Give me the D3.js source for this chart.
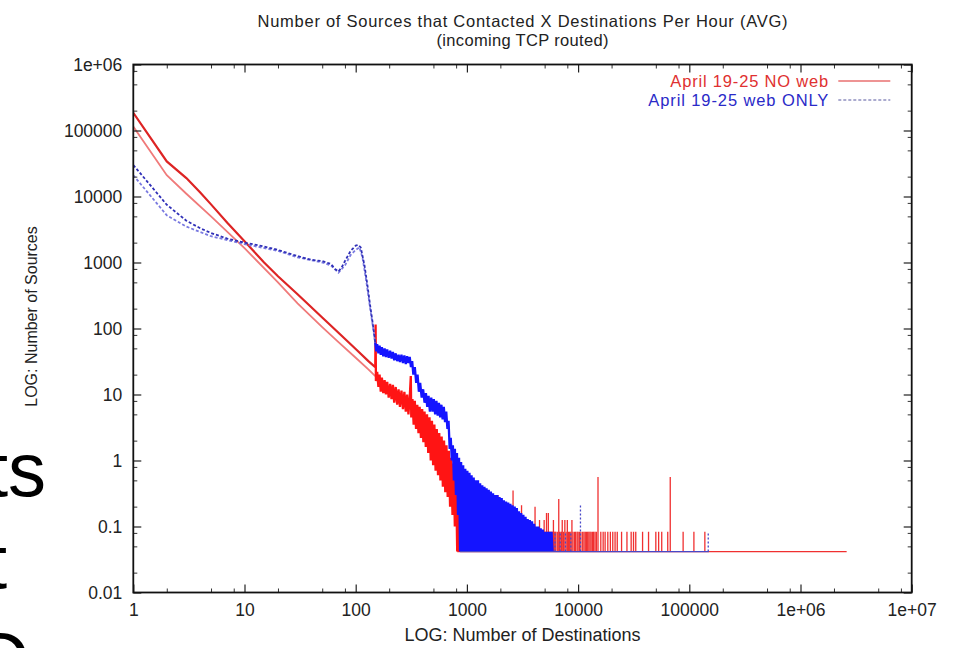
<!DOCTYPE html>
<html>
<head>
<meta charset="utf-8">
<script src="https://cdn.jsdelivr.net/npm/d3@7"></script>
<style>
  html, body { margin: 0; padding: 0; background: #fff; }
  svg { display: block; font-family: 'Liberation Sans', Arial, sans-serif; }
</style>
</head>
<body>
<svg id="chart" width="955" height="648"></svg>
<script>
// axis ticks (gnuplot style labels)
const xTickValues = [1, 10, 100, 1000, 10000, 100000, 1e6, 1e7]
const xTickLabels = ['1', '10', '100', '1000', '10000', '100000', '1e+06', '1e+07']
const yTickValues = [0.01, 0.1, 1, 10, 100, 1000, 10000, 100000, 1e6]
const yTickLabels = ['0.01', '0.1', '1', '10', '100', '1000', '10000', '100000', '1e+06']
const minorSteps = [2, 5, 8]

// smooth head of the curves: [destinations, sources]
const noWebA = [[1, 185000], [2, 34000], [3, 19000], [4, 11500], [5, 7600], [7, 4000], [10, 2100], [15, 1000], [20, 620], [30, 330], [50, 147], [70, 86], [100, 49], [130, 32], [150, 26]]
const noWebB = [[1, 115000], [2, 21000], [3, 11000], [5, 5000], [10, 1650], [20, 500], [30, 240], [50, 105], [70, 62], [100, 36], [130, 24], [150, 19]]
const webOnlyA = [[1, 30000], [2, 7500], [3, 4300], [4, 3300], [5, 2800], [7, 2300], [10, 2000], [15, 1750], [20, 1550], [30, 1250], [40, 1100], [50, 1050], [60, 950], [65, 800], [70, 730], [75, 850], [80, 1050], [90, 1500], [100, 1800], [105, 1850], [111, 1690], [120, 900], [128, 430], [135, 220], [142, 123], [150, 61]]
const webOnlyB = [[1, 21000], [2, 5200], [3, 3500], [5, 2500], [10, 1900], [20, 1500], [30, 1200], [50, 1000], [60, 900], [70, 700], [80, 900], [90, 1300], [100, 1550], [108, 1700], [115, 1200], [125, 500], [135, 200], [145, 90], [150, 55]]

// noisy part of the curves
const noWebNoise = [[150, 26], [151, 115], [152, 16], [156, 22], [160, 13], [164, 20], [168, 11], [172, 18], [177, 10.5], [182, 16.5], [187, 10], [192, 15.5], [198, 9], [204, 14.5], [210, 8.5], [216, 14], [222, 7.5], [229, 13], [236, 7], [243, 12], [250, 6.5], [258, 11.5], [266, 6], [274, 11], [282, 5.5], [290, 10], [298, 5], [306, 9], [313, 19], [316, 4.5], [324, 8.5], [332, 3.5], [340, 8], [349, 3], [358, 7], [367, 2.6], [376, 6.5], [386, 2.2], [396, 6], [406, 1.9], [416, 5.5], [427, 1.6], [438, 5], [449, 1.3], [461, 4.5], [473, 1], [485, 4], [497, 0.85], [510, 3.5], [523, 0.7], [536, 3], [550, 0.6], [564, 2.6], [578, 0.5], [593, 2.3], [608, 0.4], [623, 2], [639, 0.33], [655, 1.7], [672, 0.28], [689, 1.4], [706, 0.2], [724, 1.1], [742, 0.15], [760, 0.9], [779, 0.1], [798, 0.7], [818, 0.0417], [838, 0.5], [858, 0.0417], [880, 0.4], [902, 0.0417], [924, 0.28], [947, 0.0417], [970, 0.25], [994, 0.0417], [1018, 0.2], [1043, 0.0417], [1068, 0.28], [1094, 0.0417], [1120, 0.15], [1148, 0.0417], [1176, 0.2], [1205, 0.0417], [1235, 0.125], [1265, 0.0417], [1296, 0.17], [1330, 0.0417], [1360, 0.125], [1395, 0.0417]]
const webOnlyNoise = [[150, 61], [153, 45], [156, 58], [160, 42], [164, 55], [168, 40], [172, 52], [177, 38], [182, 50], [187, 37], [192, 48], [198, 36], [204, 46], [210, 35], [216, 44], [222, 33], [229, 42], [236, 32], [243, 40], [250, 31], [258, 40], [266, 30], [274, 39], [282, 29], [290, 38], [298, 30], [306, 37], [314, 26], [322, 32], [330, 20], [340, 26], [350, 15], [360, 20], [370, 11], [380, 15], [392, 9], [404, 12], [416, 7.5], [428, 10.5], [440, 6.5], [452, 9.5], [465, 5.5], [478, 9], [491, 5.5], [504, 8.5], [518, 5], [532, 8], [546, 4.8], [560, 7.5], [575, 4.5], [590, 7], [605, 4.2], [620, 6.5], [636, 3.8], [652, 5.5], [668, 3], [684, 4], [700, 1.5], [716, 2.2], [732, 1], [748, 1.7], [764, 0.5], [780, 1.5], [797, 0.3], [814, 1.3], [832, 0.15], [850, 1.1], [868, 0.0417], [887, 0.95], [906, 0.0417], [926, 0.85], [946, 0.0417], [967, 0.75], [988, 0.0417], [1010, 0.7], [1032, 0.0417], [1055, 0.65], [1078, 0.0417], [1102, 0.6], [1126, 0.0417], [1151, 0.55], [1177, 0.0417], [1203, 0.5], [1230, 0.0417], [1258, 0.5], [1286, 0.0417], [1315, 0.45], [1345, 0.0417], [1375, 0.42], [1406, 0.0417], [1438, 0.4], [1470, 0.0417], [1503, 0.38], [1537, 0.0417], [1572, 0.36], [1607, 0.0417], [1643, 0.34], [1680, 0.0417], [1718, 0.32], [1757, 0.0417], [1797, 0.3], [1838, 0.0417], [1880, 0.3], [1922, 0.0417], [1966, 0.28], [2010, 0.0417], [2056, 0.27], [2102, 0.0417], [2150, 0.25], [2199, 0.0417], [2249, 0.24], [2300, 0.0417], [2352, 0.23], [2405, 0.0417], [2460, 0.22], [2516, 0.0417], [2573, 0.21], [2631, 0.0417], [2691, 0.2], [2752, 0.0417], [2814, 0.19], [2878, 0.0417], [2943, 0.17], [3010, 0.0417], [3078, 0.16], [3148, 0.0417], [3219, 0.15], [3292, 0.0417], [3367, 0.14], [3443, 0.0417], [3521, 0.13], [3601, 0.0417], [3683, 0.125], [3766, 0.0417], [3852, 0.12], [3939, 0.0417], [4028, 0.11], [4120, 0.0417], [4213, 0.1], [4308, 0.0417], [4406, 0.1], [4506, 0.0417], [4608, 0.094], [4712, 0.0417], [4819, 0.09], [4929, 0.0417], [5040, 0.083], [5155, 0.0417], [5272, 0.083], [5391, 0.0417], [5513, 0.083], [5638, 0.0417], [5766, 0.083], [5897, 0.0417]]

// sparse tail: one source seen in 24 hours = 1/24, plus isolated spikes
const tailFloor = 1 / 24
const noWebTailRange = [818, 2600000]
const webOnlyTailRange = [868, 150000]
const noWebSpikes = [[1400, 0.125], [1420, 0.083], [1440, 0.083], [1460, 0.083], [1480, 0.083], [1500, 0.125], [1520, 0.083], [1550, 0.25], [1570, 0.083], [1600, 0.083], [1620, 0.083], [1640, 0.125], [1680, 0.083], [1700, 0.083], [1720, 0.083], [1750, 0.125], [1780, 0.083], [1800, 0.083], [1830, 0.083], [1850, 0.083], [1870, 0.125], [1900, 0.3], [1930, 0.083], [1960, 0.083], [1980, 0.083], [2000, 0.083], [2050, 0.125], [2080, 0.083], [2100, 0.083], [2150, 0.083], [2180, 0.083], [2200, 0.083], [2250, 0.2], [2280, 0.083], [2300, 0.083], [2350, 0.083], [2400, 0.083], [2450, 0.083], [2500, 0.125], [2550, 0.083], [2600, 0.35], [2650, 0.083], [2700, 0.083], [2750, 0.083], [2800, 0.125], [2850, 0.083], [2900, 0.083], [2950, 0.083], [3000, 0.083], [3050, 0.083], [3100, 0.21], [3150, 0.083], [3200, 0.083], [3250, 0.083], [3300, 0.083], [3350, 0.083], [3400, 0.125], [3450, 0.083], [3500, 0.083], [3550, 0.083], [3600, 0.083], [3650, 0.083], [3700, 0.125], [3800, 0.083], [3850, 0.083], [3900, 0.083], [4000, 0.083], [4050, 0.083], [4100, 0.2], [4200, 0.083], [4300, 0.083], [4400, 0.083], [4500, 0.125], [4600, 0.083], [4700, 0.083], [4800, 0.083], [4950, 0.125], [5000, 0.083], [5100, 0.083], [5200, 0.16], [5300, 0.083], [5400, 0.16], [5500, 0.083], [5600, 0.083], [5700, 0.083], [5800, 0.083], [5900, 0.083], [6000, 0.125], [6100, 0.083], [6200, 0.083], [6300, 0.083], [6500, 0.083], [6700, 0.26], [6800, 0.083], [7000, 0.083], [7100, 0.083], [7200, 0.125], [7400, 0.083], [7600, 0.125], [7800, 0.083], [8000, 0.125], [8200, 0.083], [8400, 0.083], [8600, 0.083], [8800, 0.125], [9000, 0.083], [9300, 0.083], [9500, 0.083], [9800, 0.083], [10000, 0.083], [10300, 0.083], [10600, 0.083], [11000, 0.083], [11300, 0.083], [11600, 0.083], [11900, 0.083], [12200, 0.083], [12500, 0.083], [12800, 0.083], [13100, 0.083], [13500, 0.083], [13800, 0.083], [14200, 0.083], [14600, 0.083], [15100, 0.56], [16000, 0.083], [16800, 0.083], [17500, 0.083], [18500, 0.083], [19500, 0.083], [20500, 0.083], [21500, 0.083], [22500, 0.083], [24600, 0.083], [27500, 0.083], [30000, 0.083], [31500, 0.083], [33000, 0.083], [38000, 0.083], [43000, 0.083], [50000, 0.083], [53000, 0.083], [56500, 0.083], [64000, 0.083], [67400, 0.56], [88000, 0.083], [110000, 0.083], [138000, 0.083]]
const webOnlySpikes = [[6200, 0.083], [6900, 0.083], [7700, 0.083], [8600, 0.083], [10500, 0.21], [148000, 0.083]]

const legendLabels = ['April 19-25 NO web', 'April 19-25 web ONLY']

const width = 955
const height = 648
const margin = { top: 64.5, right: 43.3, bottom: 55.5, left: 133.3 }
const innerW = width - margin.left - margin.right
const innerH = height - margin.top - margin.bottom

const svg = d3.select('#chart')

const x = d3.scaleLog().domain([1, 1e7]).range([0, innerW])
const y = d3.scaleLog().domain([0.01, 1e6]).range([innerH, 0])

const g = svg.append('g')
  .attr('transform', `translate(${margin.left}, ${margin.top})`)

/**
 * Builds minor tick values for a log decade range
 *
 * @param {number[]} majors the decade values
 * @returns {number[]} the minor tick values
 */
function minorTicks (majors) {
  const out = []
  majors.slice(0, -1).forEach(m => minorSteps.forEach(s => out.push(m * s)))
  return out
}

/**
 * Draws the frame, ticks and tick labels
 */
function drawAxes () {
  const labelX = d => xTickLabels[xTickValues.indexOf(d)]
  const labelY = d => yTickLabels[yTickValues.indexOf(d)]

  const axes = [
    { axis: d3.axisBottom(x), tr: `translate(0, ${innerH})`, vals: xTickValues, fmt: labelX },
    { axis: d3.axisTop(x), tr: 'translate(0, 0)', vals: xTickValues, fmt: () => '' },
    { axis: d3.axisLeft(y), tr: 'translate(0, 0)', vals: yTickValues, fmt: labelY },
    { axis: d3.axisRight(y), tr: `translate(${innerW}, 0)`, vals: yTickValues, fmt: () => '' }
  ]

  axes.forEach(a => {
    const major = g.append('g')
      .attr('transform', a.tr)
      .call(a.axis.tickValues(a.vals).tickFormat(a.fmt).tickSize(-8).tickSizeOuter(0).tickPadding(11))
    major.select('.domain').remove()
    major.selectAll('line').attr('stroke', '#222').attr('stroke-width', 1.2)
    major.selectAll('text')
      .attr('font-size', '17.5px')
      .attr('fill', '#222')
      .attr('font-family', "'Liberation Sans', Arial, sans-serif")

    const minor = g.append('g')
      .attr('transform', a.tr)
      .call(a.axis.tickValues(minorTicks(a.vals)).tickFormat('').tickSize(-4).tickSizeOuter(0))
    minor.select('.domain').remove()
    minor.selectAll('line').attr('stroke', '#333').attr('stroke-width', 1)
  })

  g.append('rect')
    .attr('width', innerW)
    .attr('height', innerH)
    .attr('fill', 'none')
    .attr('stroke', '#111')
    .attr('stroke-width', 1.8)
}

/**
 * Draws every curve, noise band and sparse tail
 */
function drawSeries () {
  g.append('clipPath').attr('id', 'clip')
    .append('rect').attr('width', innerW).attr('height', innerH)

  const plot = g.append('g').attr('clip-path', 'url(#clip)')
  const line = d3.line().x(d => x(d[0])).y(d => y(d[1]))

  const drawTail = (range, spikes, color, dash) => {
    plot.append('path')
      .datum(range.map(v => [v, tailFloor]))
      .attr('d', line)
      .attr('fill', 'none')
      .attr('stroke', color)
      .attr('stroke-width', 1.4)
    plot.append('g').selectAll('line')
      .data(spikes)
      .join('line')
      .attr('x1', d => x(d[0]))
      .attr('x2', d => x(d[0]))
      .attr('y1', y(tailFloor))
      .attr('y2', d => y(d[1]))
      .attr('stroke', color)
      .attr('stroke-width', 1.3)
      .attr('stroke-dasharray', dash)
  }

  drawTail(noWebTailRange, noWebSpikes, '#f03030', null)

  plot.append('path').datum(noWebB).attr('d', line)
    .attr('fill', 'none').attr('stroke', '#f07a7a').attr('stroke-width', 1.8)
  plot.append('path').datum(noWebA).attr('d', line)
    .attr('fill', 'none').attr('stroke', '#dd2424').attr('stroke-width', 2.2)
  plot.append('path').datum(noWebNoise).attr('d', line)
    .attr('fill', 'none').attr('stroke', '#ff1414').attr('stroke-width', 2.3)

  plot.append('path').datum(webOnlyB).attr('d', line)
    .attr('fill', 'none').attr('stroke', '#7a7ae0').attr('stroke-width', 1.8)
    .attr('stroke-dasharray', '3,2')
  plot.append('path').datum(webOnlyA).attr('d', line)
    .attr('fill', 'none').attr('stroke', '#3030b8').attr('stroke-width', 1.8)
    .attr('stroke-dasharray', '3,2')
  plot.append('path').datum(webOnlyNoise).attr('d', line)
    .attr('fill', 'none').attr('stroke', '#1414ff').attr('stroke-width', 2.3)

  drawTail(webOnlyTailRange, webOnlySpikes, '#4848c8', '2,2')
}

/**
 * Draws the legend in the top right corner
 */
function drawLegend () {
  const colors = ['#e03030', '#2a2ac8']
  const sample = ['#e87070', '#9090c0']
  const dashes = [null, '3,2']
  legendLabels.forEach((label, i) => {
    const row = g.append('g').attr('transform', `translate(0, ${16.5 + i * 19})`)
    row.append('text')
      .attr('x', 695)
      .attr('dy', '0.35em')
      .attr('text-anchor', 'end')
      .attr('font-size', '16.5px')
      .attr('fill', colors[i])
      .attr('textLength', i === 0 ? 158 : 180)
      .text(label)
    row.append('line')
      .attr('x1', 705).attr('x2', 757)
      .attr('stroke', sample[i])
      .attr('stroke-width', 1.3)
      .attr('stroke-dasharray', dashes[i])
  })
}

/**
 * Draws the titles and axis labels
 */
function drawTitles () {
  const cx = margin.left + innerW / 2
  svg.append('text')
    .attr('x', cx).attr('y', 27)
    .attr('text-anchor', 'middle')
    .attr('font-size', '16.5px')
    .attr('fill', '#222')
    .attr('textLength', 530)
    .text('Number of Sources that Contacted X Destinations Per Hour (AVG)')
  svg.append('text')
    .attr('x', cx).attr('y', 46)
    .attr('text-anchor', 'middle')
    .attr('font-size', '16.5px')
    .attr('fill', '#222')
    .attr('textLength', 172)
    .text('(incoming TCP routed)')
  svg.append('text')
    .attr('x', cx).attr('y', 641)
    .attr('text-anchor', 'middle')
    .attr('font-size', '18px')
    .attr('fill', '#222')
    .text('LOG: Number of Destinations')
  svg.append('text')
    .attr('transform', `translate(37, ${margin.top + innerH / 2 - 12}) rotate(-90)`)
    .attr('text-anchor', 'middle')
    .attr('font-size', '16px')
    .attr('fill', '#222')
    .text('LOG: Number of Sources')

  // cut-off slide text on the left edge
  const frag = [['ts', 46, 496], ['t', 7, 588], ['O', 30, 686]]
  frag.forEach(f => {
    svg.append('text')
      .attr('x', f[1]).attr('y', f[2])
      .attr('text-anchor', 'end')
      .attr('font-size', '76px')
      .attr('fill', '#000')
      .text(f[0])
  })
}

drawSeries()
drawAxes()
drawLegend()
drawTitles()
</script>
</body>
</html>
